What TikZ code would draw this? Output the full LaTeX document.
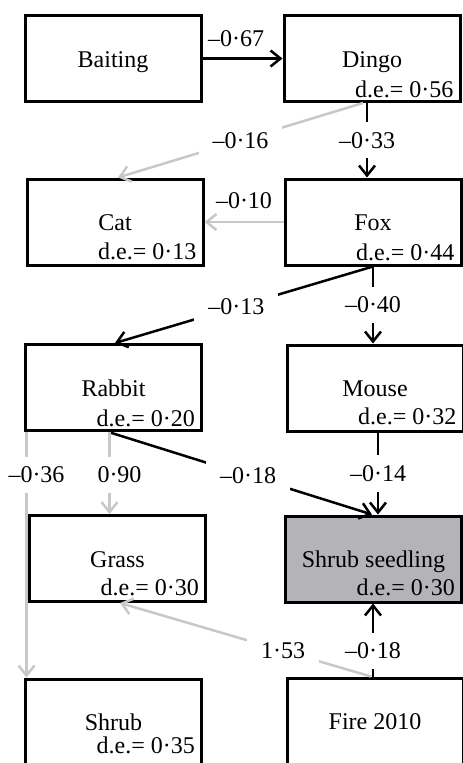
\documentclass[tikz,border=0pt]{standalone}
\usepackage{fontspec}
\setmainfont{Liberation Serif}
\usetikzlibrary{arrows.meta}

\definecolor{linegray}{RGB}{200,200,200}
\definecolor{boxgray}{RGB}{180,180,184}

\tikzset{
  box/.style={draw, line width=3pt, minimum width=176pt, minimum height=86pt,
    inner sep=0pt, text height=17pt, text depth=0pt},
  de/.style={anchor=base east, inner sep=0pt},
  blk/.style={draw=black, line width=2.5pt},
  gry/.style={draw=linegray, line width=2.5pt},
  lbl/.style={fill=white, inner xsep=14pt, inner ysep=10pt},
  toplbl/.style={inner sep=3pt}
}

\begin{document}
\begin{tikzpicture}[x=1pt, y=-1pt, font=\fontsize{24}{28}\selectfont,
    >={Straight Barb[length=10pt,width=16pt]}]
    \useasboundingbox (0,0) rectangle (463,763);

    % boxes
    \node[box] (baiting) at (113,58.5) {Baiting};
    \node[box] (dingo) at (372,58.5) {Dingo};
    \node[box] (cat) at (115,222) {Cat};
    \node[box] (fox) at (373,222) {Fox};
    \node[box] (rabbit) at (113.5,387.5) {Rabbit};
    \node[box] (mouse) at (375,388) {Mouse};
    \node[box] (grass) at (117.5,558.5) {Grass};
    \node[box, fill=boxgray] (seedling) at (373.5,559) {Shrub seedling};
    \node[box] (shrub) at (113.5,722) {Shrub};
    \node[box] (fire) at (375,721) {Fire 2010};

    % d.e. values
    \node[de] (dingode) at ([xshift=-8pt,yshift=6pt]dingo.south east) {d.e.= 0·56};
    \node[de] (catde) at ([xshift=-8pt,yshift=7pt]cat.south east) {d.e.= 0·13};
    \node[de] (foxde) at ([xshift=-8pt,yshift=6pt]fox.south east) {d.e.= 0·44};
    \node[de] (rabbitde) at ([xshift=-8pt,yshift=6pt]rabbit.south east) {d.e.= 0·20};
    \node[de] (mousede) at ([xshift=-8pt,yshift=8pt]mouse.south east) {d.e.= 0·32};
    \node[de] (grassde) at ([xshift=-8pt,yshift=8pt]grass.south east) {d.e.= 0·30};
    \node[de] (seedlingde) at ([xshift=-8pt,yshift=8pt]seedling.south east) {d.e.= 0·30};
    \node[de] (shrubde) at ([xshift=-8pt,yshift=6pt]shrub.south east |- 0,759) {d.e.= 0·35};

    % paths
    \draw[blk,->] (baiting) -- (dingo) node[toplbl, pos=0.42, above=8pt] {–0·67};
    \draw[blk,->] ([xshift=-5pt]dingo.south) -- ([xshift=-6pt]fox.north)
        node[lbl, midway] {–0·33};
    \draw[gry,->] ([xshift=-9pt]dingo.south) -- ([xshift=3pt]cat.north)
        node[lbl, midway] {–0·16};
    \draw[gry,->] (fox.west) -- (cat.east) node[toplbl, midway, above=9pt] {–0·10};

    \draw[blk,->] (fox.south) -- ([xshift=1.5pt]rabbit.north)
        node[lbl, pos=0.53] {–0·13};
    \draw[blk,->] (fox.south) -- (fox.south |- mouse.north)
        node[lbl, midway] {–0·40};

    \draw[blk,->] ([xshift=-5pt]rabbit.south) -- ([xshift=-1.5pt]seedling.north)
        node[lbl, pos=0.53] {–0·18};
    \draw[blk,->] ([xshift=3pt]mouse.south) -- ([xshift=3pt]mouse.south |- seedling.north)
        node[lbl, midway] {–0·14};
    \draw[gry,->] ([xshift=-4pt]rabbit.south) -- ([xshift=-4pt]rabbit.south |- grass.north)
        node[lbl, pos=0.52, xshift=10pt] {0·90};
    \draw[gry,->] ([xshift=2.5pt]rabbit.south west) -- ([xshift=2.5pt]rabbit.south west |- shrub.north)
        node[lbl, pos=0.175, xshift=10pt] {–0·36};

    \draw[blk,->] ([xshift=-2pt]fire.north) -- ([xshift=-2pt]fire.north |- seedling.south)
        node[lbl, pos=0.35] {–0·18};
    \draw[gry,->] ([xshift=-4pt]fire.north) -- ([xshift=2.5pt]grass.south)
        node[lbl, pos=0.35] {1·53};

\end{tikzpicture}
\end{document}
